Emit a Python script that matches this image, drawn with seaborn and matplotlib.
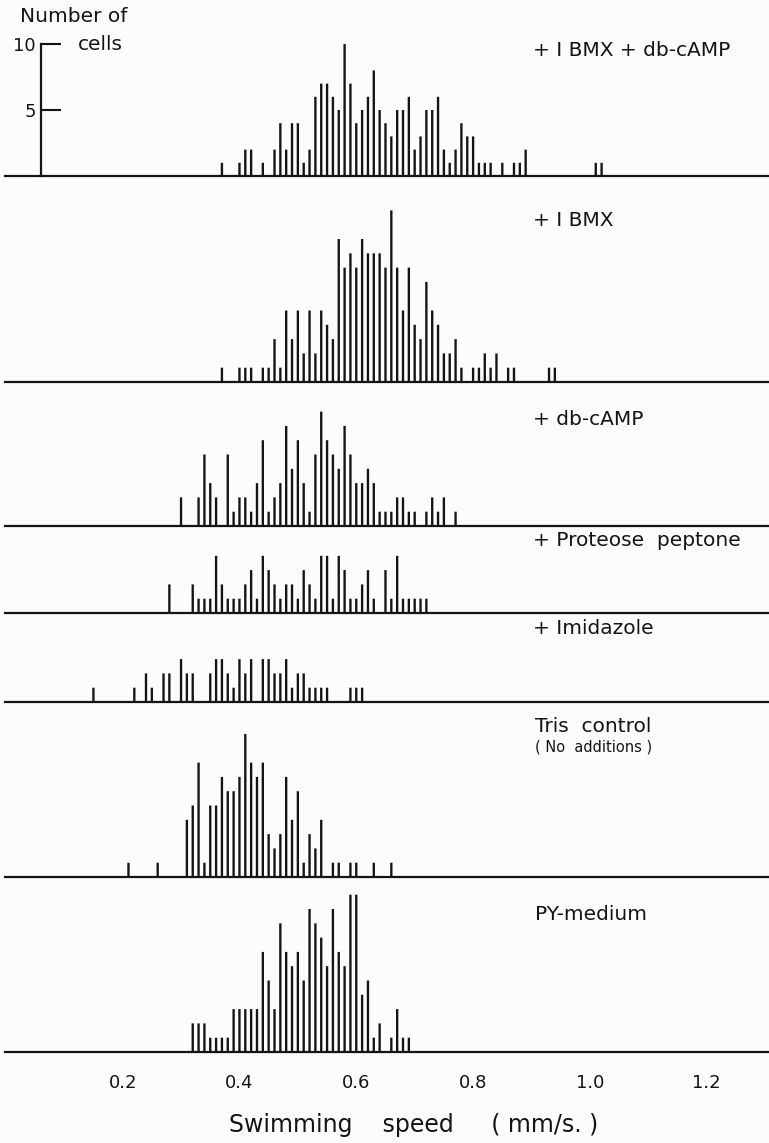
import numpy as np
import pandas as pd
import matplotlib
matplotlib.use("Agg")
import matplotlib.pyplot as plt
import seaborn as sns

# ---------------- data (speed in mm/s, number of cells) ----------------
ibmx_dbcamp_speed = [0.37, 0.40, 0.41, 0.42, 0.44, 0.46, 0.47, 0.48, 0.49, 0.50,
                     0.51, 0.52, 0.53, 0.54, 0.55, 0.56, 0.57, 0.58, 0.59, 0.60,
                     0.61, 0.62, 0.63, 0.64, 0.65, 0.66, 0.67, 0.68, 0.69, 0.70,
                     0.71, 0.72, 0.73, 0.74, 0.75, 0.76, 0.77, 0.78, 0.79, 0.80,
                     0.81, 0.82, 0.83, 0.85, 0.87, 0.88, 0.89, 1.01, 1.02]
ibmx_dbcamp_count = [1, 1, 2, 2, 1, 2, 4, 2, 4, 4,
                     1, 2, 6, 7, 7, 6, 5, 10, 7, 4,
                     5, 6, 8, 5, 4, 3, 5, 5, 6, 2,
                     3, 5, 5, 6, 2, 1, 2, 4, 3, 3,
                     1, 1, 1, 1, 1, 1, 2, 1, 1]

ibmx_speed = [0.37, 0.40, 0.41, 0.42, 0.44, 0.45, 0.46, 0.47, 0.48, 0.49,
              0.50, 0.51, 0.52, 0.53, 0.54, 0.55, 0.56, 0.57, 0.58, 0.59,
              0.60, 0.61, 0.62, 0.63, 0.64, 0.65, 0.66, 0.67, 0.68, 0.69,
              0.70, 0.71, 0.72, 0.73, 0.74, 0.75, 0.76, 0.77, 0.78, 0.80,
              0.81, 0.82, 0.83, 0.84, 0.86, 0.87, 0.93, 0.94]
ibmx_count = [1, 1, 1, 1, 1, 1, 3, 1, 5, 3,
              5, 2, 5, 2, 5, 4, 3, 10, 8, 9,
              8, 10, 9, 9, 9, 8, 12, 8, 5, 8,
              4, 3, 7, 5, 4, 2, 2, 3, 1, 1,
              1, 2, 1, 2, 1, 1, 1, 1]

dbcamp_speed = [0.30, 0.33, 0.34, 0.35, 0.36, 0.38, 0.39, 0.40, 0.41, 0.42,
                0.43, 0.44, 0.45, 0.46, 0.47, 0.48, 0.49, 0.50, 0.51, 0.52,
                0.53, 0.54, 0.55, 0.56, 0.57, 0.58, 0.59, 0.60, 0.61, 0.62,
                0.63, 0.64, 0.65, 0.66, 0.67, 0.68, 0.69, 0.70, 0.72, 0.73,
                0.74, 0.75, 0.77]
dbcamp_count = [2, 2, 5, 3, 2, 5, 1, 2, 2, 1,
                3, 6, 1, 2, 3, 7, 4, 6, 3, 1,
                5, 8, 6, 5, 4, 7, 5, 3, 3, 4,
                3, 1, 1, 1, 2, 2, 1, 1, 1, 2,
                1, 2, 1]

proteose_speed = [0.28, 0.32, 0.33, 0.34, 0.35, 0.36, 0.37, 0.38, 0.39, 0.40,
                  0.41, 0.42, 0.43, 0.44, 0.45, 0.46, 0.47, 0.48, 0.49, 0.50,
                  0.51, 0.52, 0.53, 0.54, 0.55, 0.56, 0.57, 0.58, 0.59, 0.60,
                  0.61, 0.62, 0.63, 0.65, 0.66, 0.67, 0.68, 0.69, 0.70, 0.71,
                  0.72]
proteose_count = [2, 2, 1, 1, 1, 4, 2, 1, 1, 1,
                  2, 3, 1, 4, 3, 2, 1, 2, 2, 1,
                  3, 2, 1, 4, 4, 1, 4, 3, 1, 1,
                  2, 3, 1, 3, 1, 4, 1, 1, 1, 1,
                  1]

imidazole_speed = [0.15, 0.22, 0.24, 0.25, 0.27, 0.28, 0.30, 0.31, 0.32, 0.35,
                   0.36, 0.37, 0.38, 0.39, 0.40, 0.41, 0.42, 0.44, 0.45, 0.46,
                   0.47, 0.48, 0.49, 0.50, 0.51, 0.52, 0.53, 0.54, 0.55, 0.59,
                   0.60, 0.61]
imidazole_count = [1, 1, 2, 1, 2, 2, 3, 2, 2, 2,
                   3, 3, 2, 1, 3, 2, 3, 3, 3, 2,
                   2, 3, 1, 2, 2, 1, 1, 1, 1, 1,
                   1, 1]

tris_speed = [0.21, 0.26, 0.31, 0.32, 0.33, 0.34, 0.35, 0.36, 0.37, 0.38,
              0.39, 0.40, 0.41, 0.42, 0.43, 0.44, 0.45, 0.46, 0.47, 0.48,
              0.49, 0.50, 0.51, 0.52, 0.53, 0.54, 0.56, 0.57, 0.59, 0.60,
              0.63, 0.66]
tris_count = [1, 1, 4, 5, 8, 1, 5, 5, 7, 6,
              6, 7, 10, 8, 7, 8, 3, 2, 3, 7,
              4, 6, 1, 3, 2, 4, 1, 1, 1, 1,
              1, 1]

py_speed = [0.32, 0.33, 0.34, 0.35, 0.36, 0.37, 0.38, 0.39, 0.40, 0.41,
            0.42, 0.43, 0.44, 0.45, 0.46, 0.47, 0.48, 0.49, 0.50, 0.51,
            0.52, 0.53, 0.54, 0.55, 0.56, 0.57, 0.58, 0.59, 0.60, 0.61,
            0.62, 0.63, 0.64, 0.66, 0.67, 0.68, 0.69]
py_count = [2, 2, 2, 1, 1, 1, 1, 3, 3, 3,
            3, 3, 7, 5, 3, 9, 7, 6, 7, 5,
            10, 9, 8, 6, 10, 7, 6, 11, 11, 4,
            5, 1, 2, 1, 3, 1, 1]

panel_labels = ["+ I BMX + db-cAMP", "+ I BMX", "+ db-cAMP", "+ Proteose  peptone",
                "+ Imidazole", "Tris  control", "PY-medium"]
sub_label = "( No  additions )"
x_ticks = [0.2, 0.4, 0.6, 0.8, 1.0, 1.2]
x_tick_labels = ["0.2", "0.4", "0.6", "0.8", "1.0", "1.2"]
y_ticks = [5, 10]
y_tick_labels = ["5", "10"]
x_label = "Swimming    speed     ( mm/s. )"
y_label = ["Number of", "cells"]

# ---------------- styling / layout ----------------
sns.set_style("white")
plt.rcParams["font.family"] = ["DejaVu Sans"]
INK = "#141414"
BG = "#fcfcfa"
W, H = 769, 1143

fig = plt.figure(figsize=(W / 100, H / 100), dpi=100)
fig.patch.set_facecolor(BG)

# (speeds, counts, top_px, baseline_px, px per cell)
panels = [
    (ibmx_dbcamp_speed, ibmx_dbcamp_count, 0, 176, 13.2),
    (ibmx_speed, ibmx_count, 176, 382, 14.3),
    (dbcamp_speed, dbcamp_count, 382, 526, 14.3),
    (proteose_speed, proteose_count, 526, 613, 14.3),
    (imidazole_speed, imidazole_count, 613, 702, 14.3),
    (tris_speed, tris_count, 702, 877, 14.3),
    (py_speed, py_count, 877, 1052, 14.3),
]
label_pos = [(533, 50), (533, 220), (533, 420), (533, 540), (533, 628), (535, 726), (535, 915)]

XMIN, XMAX = -0.0014, 1.3066
axes = []
for i, (spd, cnt, top, base, ppc) in enumerate(panels):
    ax = fig.add_axes([5 / W, 1 - base / H, 764 / W, (base - top) / H])
    ax.set_facecolor("none")
    df = pd.DataFrame({"speed": spd, "count": cnt})
    sns.barplot(data=df, x="speed", y="count", native_scale=True, orient="x",
                width=0.40, color=INK, saturation=1, errorbar=None,
                linewidth=0, ax=ax)
    for p in ax.patches:
        p.set_snap(False)
    ax.set_xlim(XMIN, XMAX)
    ax.set_ylim(0, (base - top) / ppc)
    for s in ["top", "right", "left"]:
        ax.spines[s].set_visible(False)
    ax.spines["bottom"].set_linewidth(1.6)
    ax.spines["bottom"].set_color(INK)
    ax.set_xlabel("")
    ax.set_ylabel("")
    ax.set_yticks([])
    if i == len(panels) - 1:
        ax.set_xticks(x_ticks)
        ax.set_xticklabels(x_tick_labels, fontsize=13, color=INK)
        ax.tick_params(axis="x", direction="out", length=8.6, width=1.5,
                       color=INK, pad=7)
    else:
        ax.set_xticks([])
    axes.append(ax)
    lx, ly = label_pos[i]
    fig.text(lx / W, 1 - ly / H, panel_labels[i], fontsize=14.5, color=INK,
             ha="left", va="center")

# y axis of the top panel
ax0 = axes[0]
ax0.spines["left"].set_visible(True)
ax0.spines["left"].set_position(("data", 0.061))
ax0.spines["left"].set_bounds(0, 10)
ax0.spines["left"].set_linewidth(1.6)
ax0.spines["left"].set_color(INK)
ax0.set_yticks(y_ticks)
ax0.set_yticklabels(y_tick_labels, fontsize=13, color=INK)
ax0.tick_params(axis="y", direction="in", length=14.5, width=1.5, color=INK, pad=4,
                left=True)

fig.text(20 / W, 1 - 17 / H, y_label[0], fontsize=14.5, color=INK, ha="left", va="center")
fig.text(78 / W, 1 - 44 / H, y_label[1], fontsize=14.5, color=INK, ha="left", va="center")
fig.text(535 / W, 1 - 747 / H, sub_label, fontsize=10.5, color=INK, ha="left", va="center")
fig.text(414 / W, 1 - 1125 / H, x_label, fontsize=17, color=INK, ha="center", va="center")

fig.savefig("out.png", dpi=100, facecolor=BG)
